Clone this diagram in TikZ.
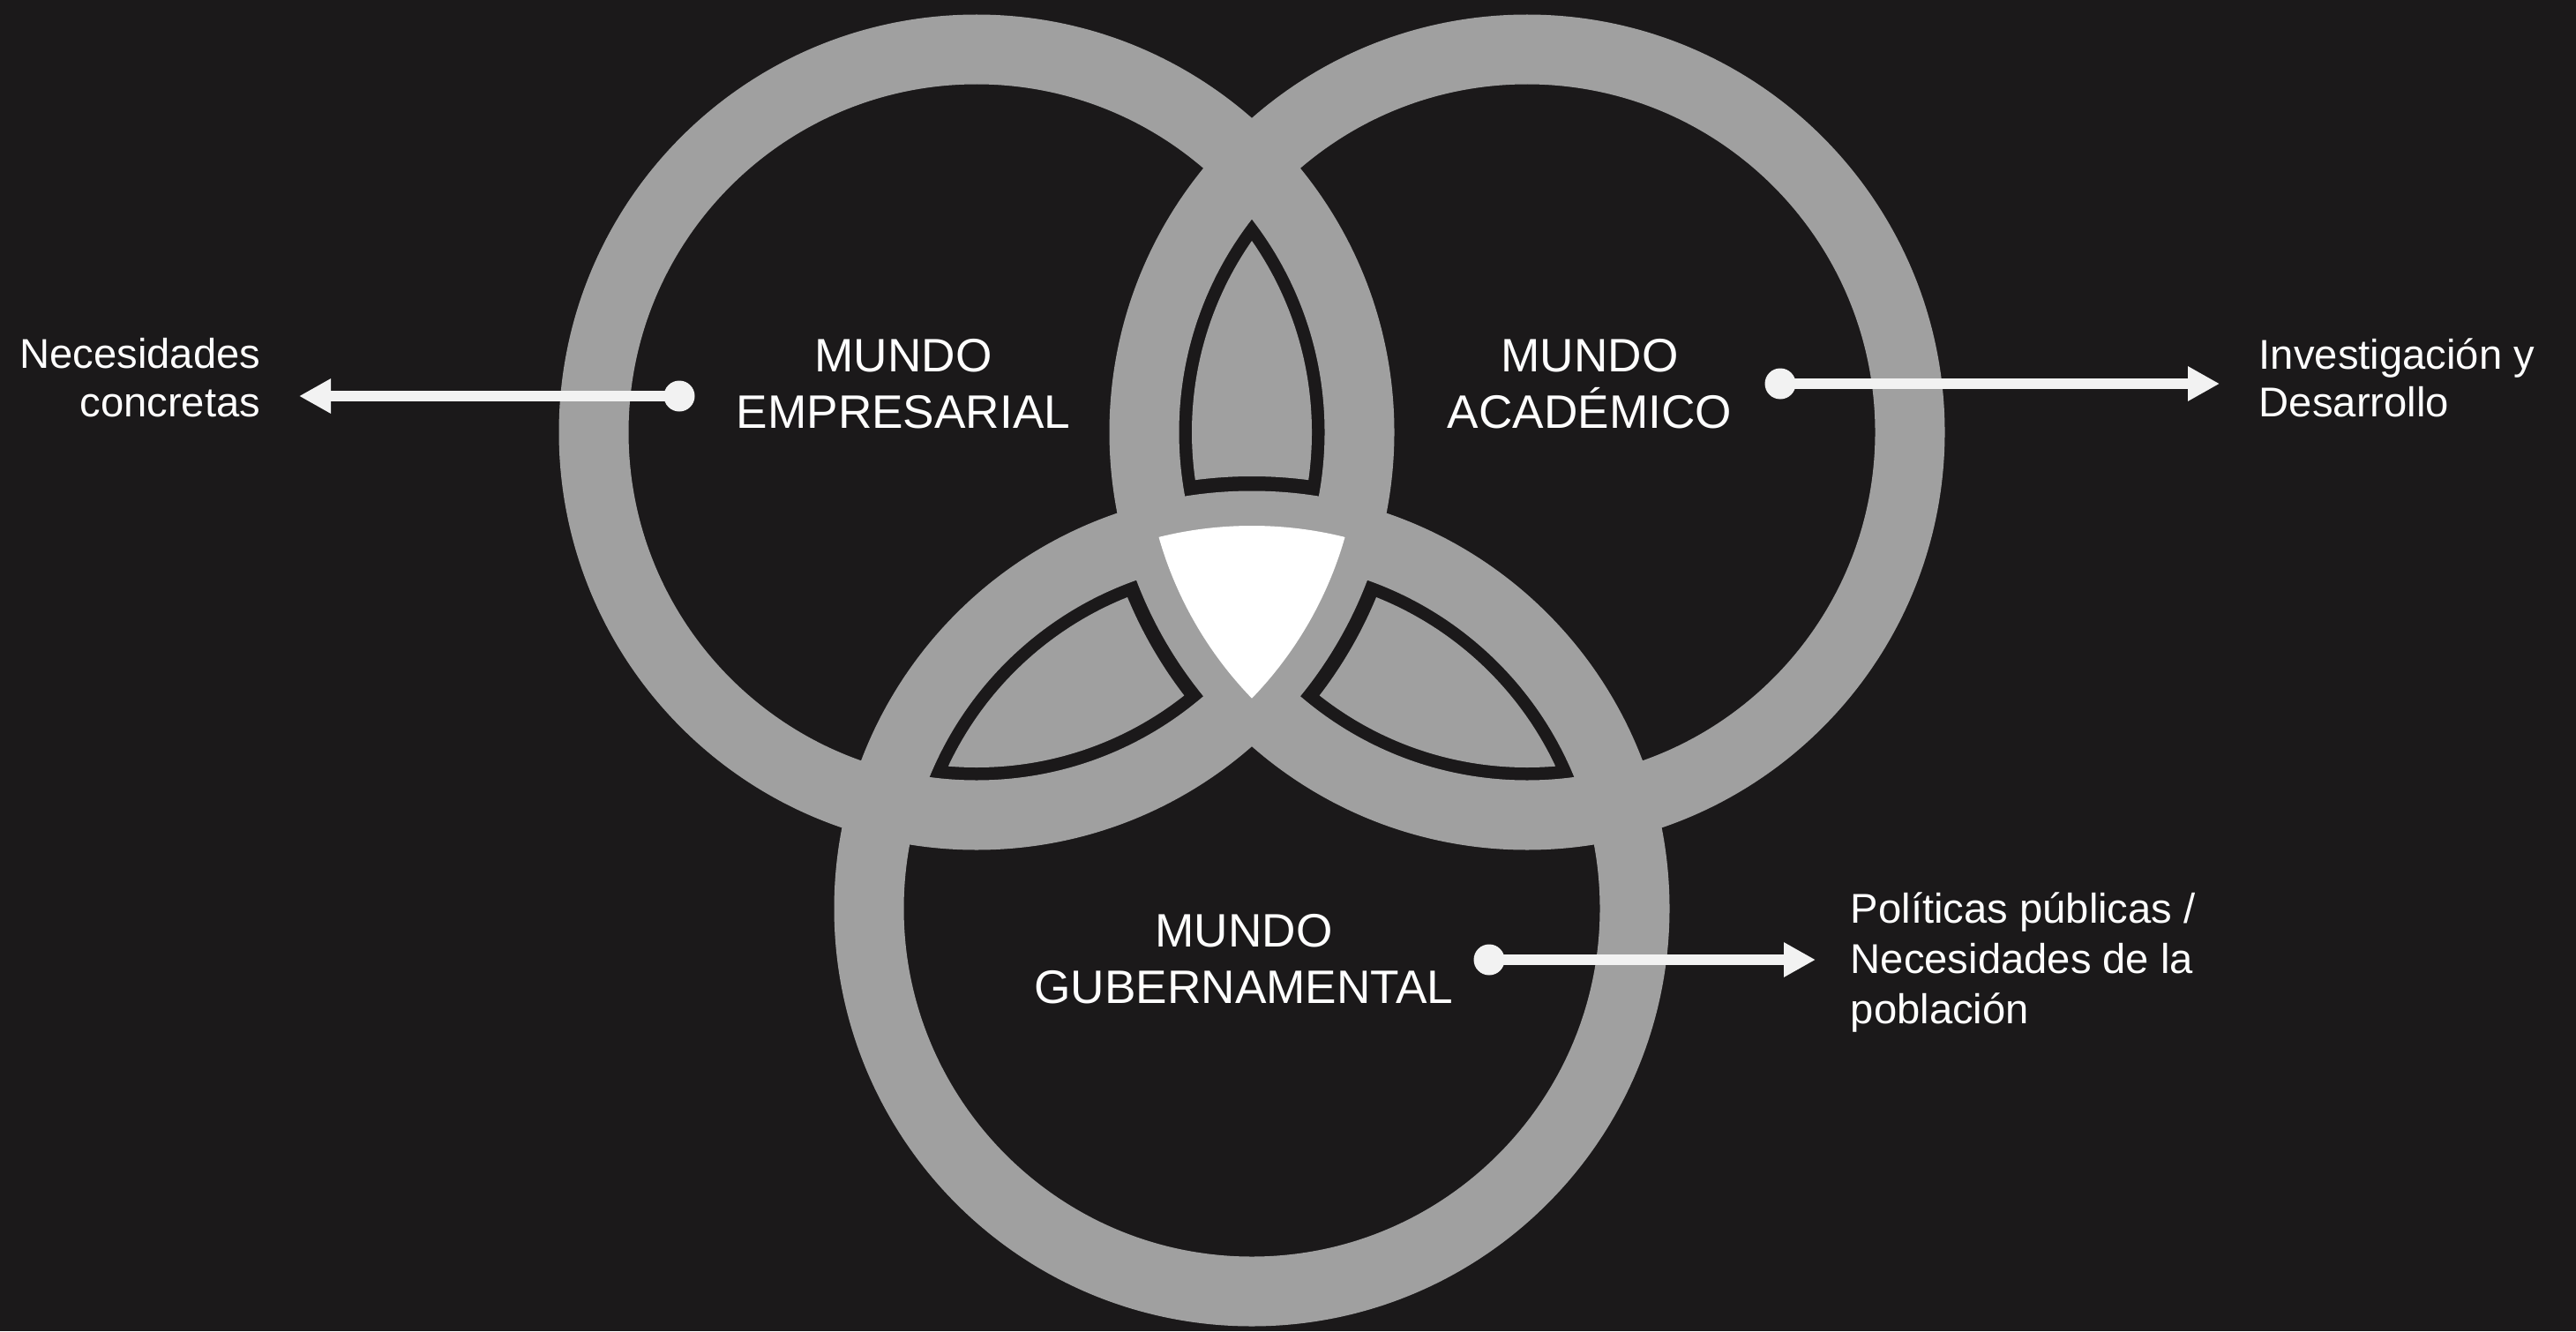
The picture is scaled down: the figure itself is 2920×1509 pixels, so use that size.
\documentclass[tikz,border=0pt]{standalone}
\usepackage{fontspec}
\setmainfont{Liberation Sans}
\usetikzlibrary{arrows.meta}
\definecolor{bg}{RGB}{27,25,26}
\definecolor{ring}{RGB}{160,160,160}
\definecolor{arrowc}{RGB}{242,242,242}
\begin{document}
\begin{tikzpicture}[x=0.25pt,y=-0.25pt,
  ringstyle/.style={draw=ring,line width=19.75pt},
  conn/.style={draw=arrowc,line width=3pt,-{Triangle[length=9pt,width=9.25pt]}},
  dotnode/.style={circle,fill=arrowc,minimum size=8.75pt,inner sep=0pt},
  bigtxt/.style={text=white,font=\fontsize{13.3}{16}\selectfont,inner sep=0pt,anchor=base},
  sidetxt/.style={text=white,font=\fontsize{11.8}{14}\selectfont,inner sep=0pt}
]
\fill[bg] (0,0) rectangle (2920,1509);
\useasboundingbox (0,0) rectangle (2920,1509);
\coordinate (L) at (1107,490);
\coordinate (R) at (1731,490);
\coordinate (B) at (1419,1030);
% rings
\draw[ringstyle] (L) circle[radius=108.5pt];
\draw[ringstyle] (R) circle[radius=108.5pt];
\draw[ringstyle] (B) circle[radius=108.5pt];
% lenses
\begin{scope}
\clip (L) circle[radius=95pt];
\clip (R) circle[radius=95pt];
\fill[ring,even odd rule] (B) circle[radius=122.5pt] (0,0) rectangle (2920,1509);
\end{scope}
\begin{scope}
\clip (L) circle[radius=95pt];
\clip (B) circle[radius=95pt];
\fill[ring,even odd rule] (R) circle[radius=122.5pt] (0,0) rectangle (2920,1509);
\end{scope}
\begin{scope}
\clip (R) circle[radius=95pt];
\clip (B) circle[radius=95pt];
\fill[ring,even odd rule] (L) circle[radius=122.5pt] (0,0) rectangle (2920,1509);
\end{scope}
% centre
\begin{scope}
\clip (L) circle[radius=108.5pt];
\clip (R) circle[radius=108.5pt];
\fill[white] (B) circle[radius=108.5pt];
\end{scope}
% connectors
\node[dotnode] (d1) at (770,449) {};
\coordinate (t1) at (339,449);
\draw[conn] (d1.center) -- (t1);
\node[dotnode] (d2) at (2018,435) {};
\coordinate (t2) at (2516,435);
\draw[conn] (d2.center) -- (t2);
\node[dotnode] (d3) at (1688,1088) {};
\coordinate (t3) at (2058,1088);
\draw[conn] (d3.center) -- (t3);
% labels
\node[bigtxt] (e1) at (1024,421) {MUNDO};
\node[bigtxt] (e2) at (1024,485) {EMPRESARIAL};
\node[bigtxt] (a1) at (1802,421) {MUNDO};
\node[bigtxt] (a2) at (1802,485) {ACADÉMICO};
\node[bigtxt] (g1) at (1410,1073) {MUNDO};
\node[bigtxt] (g2) at (1410,1137) {GUBERNAMENTAL};
\node[sidetxt,anchor=base east] (n1) at (296,417) {Necesidades};
\node[sidetxt,anchor=base east] (n2) at (296,472) {concretas};
\node[sidetxt,anchor=base west] (i1) at (2560,418) {Investigación y};
\node[sidetxt,anchor=base west] (i2) at (2560,472) {Desarrollo};
\node[sidetxt,anchor=base west] (p1) at (2097,1046) {Políticas públicas /};
\node[sidetxt,anchor=base west] (p2) at (2097,1103) {Necesidades de la};
\node[sidetxt,anchor=base west] (p3) at (2097,1160) {población};
\end{tikzpicture}
\end{document}
